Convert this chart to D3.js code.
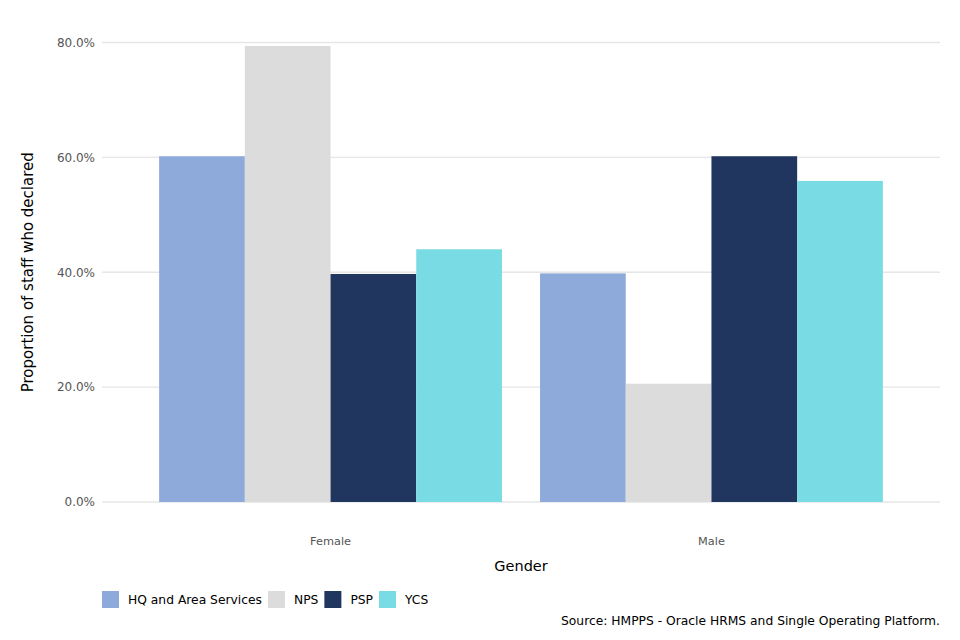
<!DOCTYPE html>
<html><head><meta charset="utf-8">
<script src="https://cdn.jsdelivr.net/npm/d3@7"></script>
<style>body{margin:0;background:#fff}svg{display:block;font-family:"DejaVu Sans",sans-serif}</style>
</head><body><svg id="c" width="960" height="640"></svg>
<script>
const categories = ["Female", "Male"];
const seriesNames = ["HQ and Area Services", "NPS", "PSP", "YCS"];
const seriesColors = ["#8eaadb", "#dcdcdc", "#20365f", "#79dbe3"];
const hqValues = [60.2, 39.8];
const npsValues = [79.4, 20.6];
const pspValues = [39.7, 60.2];
const ycsValues = [44.0, 55.9];
const yTicks = [0, 20, 40, 60, 80];

const seriesValues = [hqValues, npsValues, pspValues, ycsValues];
const svg = d3.select("#c");
const mLeft = 102, mRight = 940, mTop = 42.5, mBottom = 502;

const y = d3.scaleLinear().domain([0, 80]).range([mBottom, mTop]);
const x0 = d3.scaleBand().domain(categories).range([mLeft, mRight]).paddingInner(0.1).paddingOuter(0.15);
const x1 = d3.scaleBand().domain(seriesNames).range([0, x0.bandwidth()]);
const color = d3.scaleOrdinal().domain(seriesNames).range(seriesColors);

// gridlines
svg.append("g").selectAll("line").data(yTicks).join("line")
  .attr("x1", mLeft).attr("x2", mRight)
  .attr("y1", d => y(d)).attr("y2", d => y(d))
  .attr("stroke", "#e6e6e6").attr("stroke-width", 1.3);

// y axis labels
const yAxis = d3.axisLeft(y).tickValues(yTicks).tickFormat(d => d.toFixed(1) + "%").tickSize(0).tickPadding(7);
const ya = svg.append("g").attr("transform", `translate(${mLeft},0)`).call(yAxis);
ya.select(".domain").remove();
ya.selectAll("text").attr("font-size", 12).attr("fill", "#555555").attr("font-family", "DejaVu Sans");

// bars
const data = [];
categories.forEach((c, i) => seriesNames.forEach((s, j) => data.push({c, s, v: seriesValues[j][i]})));
svg.append("g").selectAll("rect").data(data).join("rect")
  .attr("x", d => x0(d.c) + x1(d.s))
  .attr("width", x1.bandwidth())
  .attr("y", d => y(d.v))
  .attr("height", d => y(0) - y(d.v))
  .attr("fill", d => color(d.s));

// x axis labels
const xAxis = d3.axisBottom(x0).tickSize(0).tickPadding(0);
const xa = svg.append("g").attr("transform", `translate(0,${mBottom + 39})`).call(xAxis);
xa.select(".domain").remove();
xa.selectAll("text").attr("font-size", 11.3).attr("fill", "#555555").attr("font-family", "DejaVu Sans").attr("dy", "0.35em");

// axis titles
svg.append("text").attr("x", (mLeft + mRight) / 2).attr("y", 571).attr("text-anchor", "middle")
  .attr("font-size", 14.5).attr("fill", "#000").text("Gender");
svg.append("text").attr("transform", `translate(33,${(mTop + mBottom) / 2}) rotate(-90)`)
  .attr("text-anchor", "middle").attr("font-size", 15).attr("fill", "#000").text("Proportion of staff who declared");

// legend
const lg = svg.append("g").attr("transform", "translate(102,591)");
let lx = 0;
seriesNames.forEach((s, i) => {
  const g = lg.append("g").attr("transform", `translate(${lx},0)`);
  g.append("rect").attr("width", 17).attr("height", 17).attr("fill", seriesColors[i]);
  const t = g.append("text").attr("x", 26).attr("y", 8.5).attr("dy", "0.35em")
    .attr("font-size", 12.3).attr("fill", "#000").text(s);
  lx += 26 + t.node().getComputedTextLength() + 6;
});

// source
svg.append("text").attr("x", mRight).attr("y", 625).attr("text-anchor", "end")
  .attr("font-size", 12.3).attr("fill", "#000").text("Source: HMPPS - Oracle HRMS and Single Operating Platform.");
</script></body></html>
